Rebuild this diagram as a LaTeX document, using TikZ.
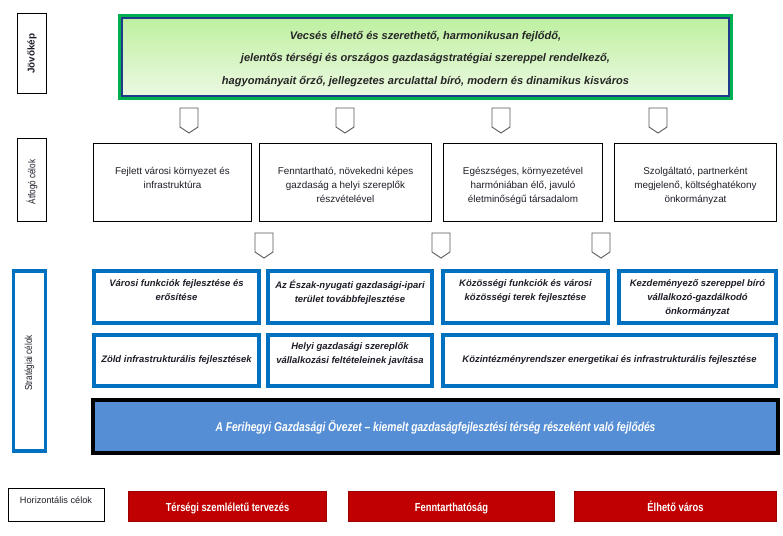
\documentclass[tikz,border=0pt]{standalone}
\usepackage{fontspec}
\setmainfont{Liberation Sans}
\newfontfamily\narrowfont{Liberation Sans}[FakeStretch=0.8]
\newfontfamily\narrowlabel{Liberation Sans}[FakeStretch=0.8]
\definecolor{visgreen}{RGB}{0,176,80}
\definecolor{visnavy}{RGB}{31,60,136}
\definecolor{vistop}{RGB}{190,240,160}
\definecolor{visbot}{RGB}{236,249,226}
\definecolor{stratblue}{RGB}{0,112,192}
\definecolor{barblue}{RGB}{85,142,213}
\definecolor{hred}{RGB}{192,0,0}
\definecolor{txtdark}{RGB}{30,30,40}
\newcommand\chevdown[2]{\draw[chev] (#1-9,#2) -- (#1+9,#2) -- (#1+9,#2+19) -- (#1,#2+25) -- (#1-9,#2+19) -- cycle;}
\begin{document}
\begin{tikzpicture}[x=0.75pt,y=-0.75pt,
  thinbox/.style={draw=black,line width=0.75pt,fill=white},
  bluebox/.style={draw=stratblue,line width=2.6pt,fill=white},
  chev/.style={draw=black!65,line width=0.7pt,fill=white,line join=miter},
  lbl/.style={rotate=90,inner sep=0pt,font=\fontsize{7.6}{9}\narrowlabel,text=txtdark},
  vistext/.style={align=center,inner sep=0pt,font=\fontsize{8.3}{16.9}\selectfont\bfseries\itshape,text=black!85},
  goal/.style={align=center,inner sep=0pt,font=\fontsize{7.4}{10.5}\selectfont,text=txtdark},
  strat/.style={align=center,inner sep=0pt,font=\fontsize{7.1}{10.5}\selectfont\bfseries\itshape,text=txtdark},
  bartext/.style={inner sep=0pt,font=\fontsize{9.6}{10}\narrowfont\bfseries\itshape,text=white},
  redtext/.style={inner sep=0pt,anchor=base,font=\fontsize{8.75}{10}\narrowfont\bfseries,text=white},
  redbox/.style={draw=hred!80!black,line width=0.75pt,fill=hred}]
\useasboundingbox (0,0) rectangle (783,536);

% ---- Jovokep row
\draw[thinbox] (17.5,13.5) rectangle (46.5,93.5);
\node[lbl,font=\fontsize{7.4}{9}\selectfont\bfseries] (jovo) at (32,53.5) {Jövőkép};

\draw[draw=visgreen,line width=2.3pt] (119.5,15.5) rectangle (731.5,98.5);
\shade[top color=vistop,bottom color=visbot] (122,18) rectangle (729,96);
\draw[draw=visnavy,line width=1.2pt] (122,18) rectangle (729,96);
\node[vistext] (vision) at (425.5,59) {Vecsés élhető és szerethető, harmonikusan fejlődő,\\
jelentős térségi és országos gazdaságstratégiai szereppel rendelkező,\\
hagyományait őrző, jellegzetes arculattal bíró, modern és dinamikus kisváros};

% ---- upper chevrons
\chevdown{189}{108}
\chevdown{345}{108}
\chevdown{501}{108}
\chevdown{658}{108}

% ---- Atfogo celok row
\draw[thinbox] (17.5,138.5) rectangle (46.5,221.5);
\node[lbl] (atfogo) at (32,182) {Átfogó célok};

\draw[thinbox] (93.5,143.5) rectangle (251.5,221.5);
\draw[thinbox] (259.5,143.5) rectangle (431.5,221.5);
\draw[thinbox] (443.5,143.5) rectangle (602.5,221.5);
\draw[thinbox] (614.5,143.5) rectangle (776.5,221.5);
\node[goal,anchor=north] (a1) at (172.5,166.5) {Fejlett városi környezet és\\infrastruktúra};
\node[goal,anchor=north] (a2) at (345.5,166.5) {Fenntartható, növekedni képes\\gazdaság a helyi szereplők\\részvételével};
\node[goal,anchor=north] (a3) at (523,166.5) {Egészséges, környezetével\\harmóniában élő, javuló\\életminőségű társadalom};
\node[goal,anchor=north] (a4) at (695.5,166.5) {Szolgáltató, partnerként\\megjelenő, költséghatékony\\önkormányzat};

% ---- lower chevrons
\chevdown{264}{233}
\chevdown{441}{233}
\chevdown{601}{233}

% ---- Strategiai celok
\draw[bluebox] (13.3,270.8) rectangle (45.7,451.2);
\node[lbl] (strat) at (29.5,363) {Stratégiai célok};

\draw[bluebox] (93.8,270.8) rectangle (259.2,323.2);
\draw[bluebox] (267.8,270.8) rectangle (432.2,323.2);
\draw[bluebox] (442.8,270.8) rectangle (608.2,323.2);
\draw[bluebox] (618.8,270.8) rectangle (776.2,323.2);
\node[strat,anchor=north] (s1) at (176.5,279.5) {Városi funkciók fejlesztése és\\erősítése};
\node[strat,anchor=north] (s2) at (350,279.5) {Az Észak-nyugati gazdasági-ipari\\terület továbbfejlesztése};
\node[strat,anchor=north] (s3) at (525.5,279.5) {Közösségi funkciók és városi\\közösségi terek fejlesztése};
\node[strat,anchor=north] (s4) at (697.5,279.5) {Kezdeményező szereppel bíró\\vállalkozó-gazdálkodó\\önkormányzat};

\draw[bluebox] (93.8,334.8) rectangle (259.2,386.2);
\draw[bluebox] (267.8,334.8) rectangle (432.2,386.2);
\draw[bluebox] (442.8,334.8) rectangle (776.2,386.2);
\node[strat] (s5) at (176.5,360.5) {Zöld infrastrukturális fejlesztések};
\node[strat] (s6) at (350,354.5) {Helyi gazdasági szereplők\\vállalkozási feltételeinek javítása};
\node[strat] (s7) at (609.5,360.5) {Közintézményrendszer energetikai és infrastrukturális fejlesztése};

% ---- blue bar
\draw[draw=black,line width=3pt,fill=barblue] (93,400) rectangle (778,453);
\node[bartext] (bar) at (435.5,427) {A Ferihegyi Gazdasági Övezet – kiemelt gazdaságfejlesztési térség részeként való fejlődés};

% ---- horizontal goals
\draw[thinbox] (8,488.5) rectangle (104,521.5);
\node[inner sep=0pt,font=\fontsize{6.9}{9}\selectfont,text=txtdark] (hor) at (56,500) {Horizontális célok};

\draw[redbox] (128.5,491.5) rectangle (326.5,521.5);
\draw[redbox] (348.5,491.5) rectangle (554.5,521.5);
\draw[redbox] (574.5,491.5) rectangle (776.5,521.5);
\node[redtext] (h1) at (227.5,511) {Térségi szemléletű tervezés};
\node[redtext] (h2) at (451.5,511) {Fenntarthatóság};
\node[redtext] (h3) at (675.5,511) {Élhető város};
\end{tikzpicture}
\end{document}
